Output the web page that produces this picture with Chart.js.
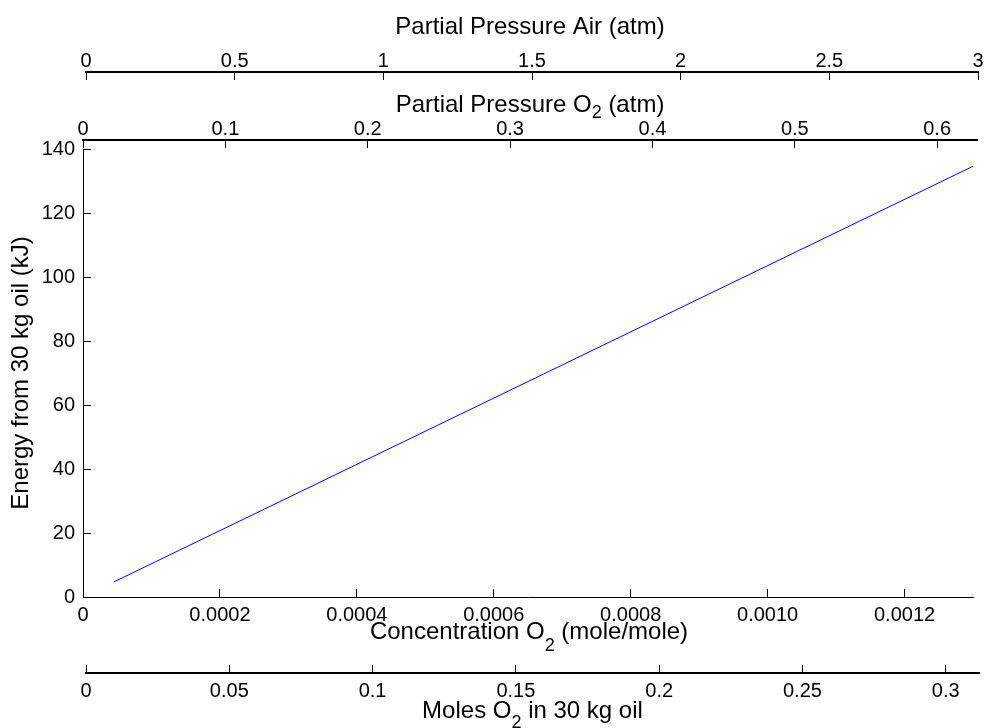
<!DOCTYPE html>
<html>
<head>
<meta charset="utf-8">
<script src="https://cdn.jsdelivr.net/npm/chart.js@4.4.1/dist/chart.umd.min.js"></script>
<style>
  html, body { margin: 0; padding: 0; background: #fff; }
  #wrap { position: relative; width: 984px; height: 728px; }
</style>
</head>
<body>
<div id="wrap"><canvas id="chart"></canvas></div>
<script>
// line: O2 concentration (mole/mole) -> energy (kJ)
const concentration = [0.000045, 0.0013];
const energy = [4.7, 134.6];

// axis ranges
const concMax = 0.0013;
const energyMax = 140;
const o2Max = 0.628;
const airMax = 3;
const molesMax = 0.3116;

// tick values and labels
const concTicks = [0, 0.0002, 0.0004, 0.0006, 0.0008, 0.0010, 0.0012];
const concLabels = ['0', '0.0002', '0.0004', '0.0006', '0.0008', '0.0010', '0.0012'];
const energyTicks = [0, 20, 40, 60, 80, 100, 120, 140];
const energyLabels = ['0', '20', '40', '60', '80', '100', '120', '140'];
const o2Ticks = [0, 0.1, 0.2, 0.3, 0.4, 0.5, 0.6];
const o2Labels = ['0', '0.1', '0.2', '0.3', '0.4', '0.5', '0.6'];
const airTicks = [0, 0.5, 1, 1.5, 2, 2.5, 3];
const airLabels = ['0', '0.5', '1', '1.5', '2', '2.5', '3'];
const molesTicks = [0, 0.05, 0.1, 0.15, 0.2, 0.25, 0.3];
const molesLabels = ['0', '0.05', '0.1', '0.15', '0.2', '0.25', '0.3'];

const FONT = "'Liberation Sans', Arial, Helvetica, sans-serif";
const TICK_FONT = { family: FONT, size: 20 };

function axis(position, weight, max, ticks, labels, { size, pad, border }) {
  return {
    type: 'linear',
    position,
    weight,
    min: 0,
    max,
    afterBuildTicks: (s) => { s.ticks = ticks.map((v) => ({ value: v })); },
    afterFit: (s) => {
      if (position === 'left') s.width = size; else s.height = size;
      s.paddingLeft = s.paddingRight = s.paddingTop = s.paddingBottom = 0;
    },
    ticks: {
      autoSkip: false,
      maxRotation: 0,
      padding: pad,
      color: '#000',
      font: TICK_FONT,
      callback: (v, i) => labels[i],
    },
    grid: { drawOnChartArea: false, tickLength: -8, tickColor: '#000', color: '#000', lineWidth: 1 },
    border: { color: '#000', width: border },
  };
}

// move the extra axes to where they sit in the figure
const placeAxes = {
  id: 'placeAxes',
  afterLayout(chart) {
    const s = chart.scales;
    const put = (sc, left, right, top, bottom) => {
      sc.left = left; sc.right = right; sc.width = right - left;
      sc.top = top; sc.bottom = bottom; sc.height = bottom - top;
      sc.configure();
    };
    put(s.o2, 83, 977, 80, 140);
    put(s.air, 86, 978, 0, 72);
    put(s.moles, 86, 979, 673, 728);
  },
};

function drawTitle(ctx, pre, sub, post, cx, y, drop) {
  const big = '24px ' + FONT;
  const small = '18px ' + FONT;
  ctx.save();
  ctx.fillStyle = '#000';
  ctx.textAlign = 'left';
  ctx.textBaseline = 'alphabetic';
  ctx.font = big;
  const w1 = ctx.measureText(pre).width;
  const w3 = ctx.measureText(post).width;
  ctx.font = small;
  const w2 = sub ? ctx.measureText(sub).width : 0;
  let x = cx - (w1 + w2 + w3) / 2;
  ctx.font = big;
  ctx.fillText(pre, x, y);
  x += w1;
  if (sub) {
    ctx.font = small;
    ctx.fillText(sub, x, y + drop);
    x += w2;
  }
  ctx.font = big;
  ctx.fillText(post, x, y);
  ctx.restore();
}

const axisTitles = {
  id: 'axisTitles',
  afterDraw(chart) {
    const { ctx, chartArea: a, scales: s } = chart;
    const mid = (a.left + a.right) / 2;
    drawTitle(ctx, 'Partial Pressure Air (atm)', '', '', mid + 2, 34, 0);
    drawTitle(ctx, 'Partial Pressure O', '2', ' (atm)', mid + 2, 112, 6);
    drawTitle(ctx, 'Concentration O', '2', ' (mole/mole)', mid + 1, 639, 12);
    drawTitle(ctx, 'Moles O', '2', ' in 30 kg oil', (s.moles.left + s.moles.right) / 2, 718, 10);
  },
};

const yAxis = axis('left', 0, energyMax, energyTicks, energyLabels, { size: 83, pad: 16, border: 1 });
yAxis.title = {
  display: true,
  text: 'Energy from 30 kg oil (kJ)',
  color: '#000',
  font: { family: FONT, size: 24 },
  padding: { top: 7, bottom: 0 },
};

new Chart(document.getElementById('chart'), {
  type: 'line',
  data: {
    datasets: [
      {
        data: concentration.map((c, i) => ({ x: c, y: energy[i] })),
        borderColor: '#0000ff',
        borderWidth: 1,
        pointRadius: 0,
        fill: false,
        xAxisID: 'x',
        yAxisID: 'y',
      },
    ],
  },
  options: {
    responsive: true,
    maintainAspectRatio: false,
    animation: false,
    events: [],
    layout: { padding: { left: 0, right: 11, top: 0, bottom: 0 } },
    plugins: { legend: { display: false }, tooltip: { enabled: false } },
    scales: {
      x: axis('bottom', 0, concMax, concTicks, concLabels, { size: 76, pad: 14, border: 1 }),
      moles: axis('bottom', 1, molesMax, molesTicks, molesLabels, { size: 55, pad: 14, border: 2 }),
      y: yAxis,
      o2: axis('top', 0, o2Max, o2Ticks, o2Labels, { size: 78, pad: 7, border: 2 }),
      air: axis('top', 1, airMax, airTicks, airLabels, { size: 71, pad: 7, border: 2 }),
    },
  },
  plugins: [placeAxes, axisTitles],
});
</script>
</body>
</html>
